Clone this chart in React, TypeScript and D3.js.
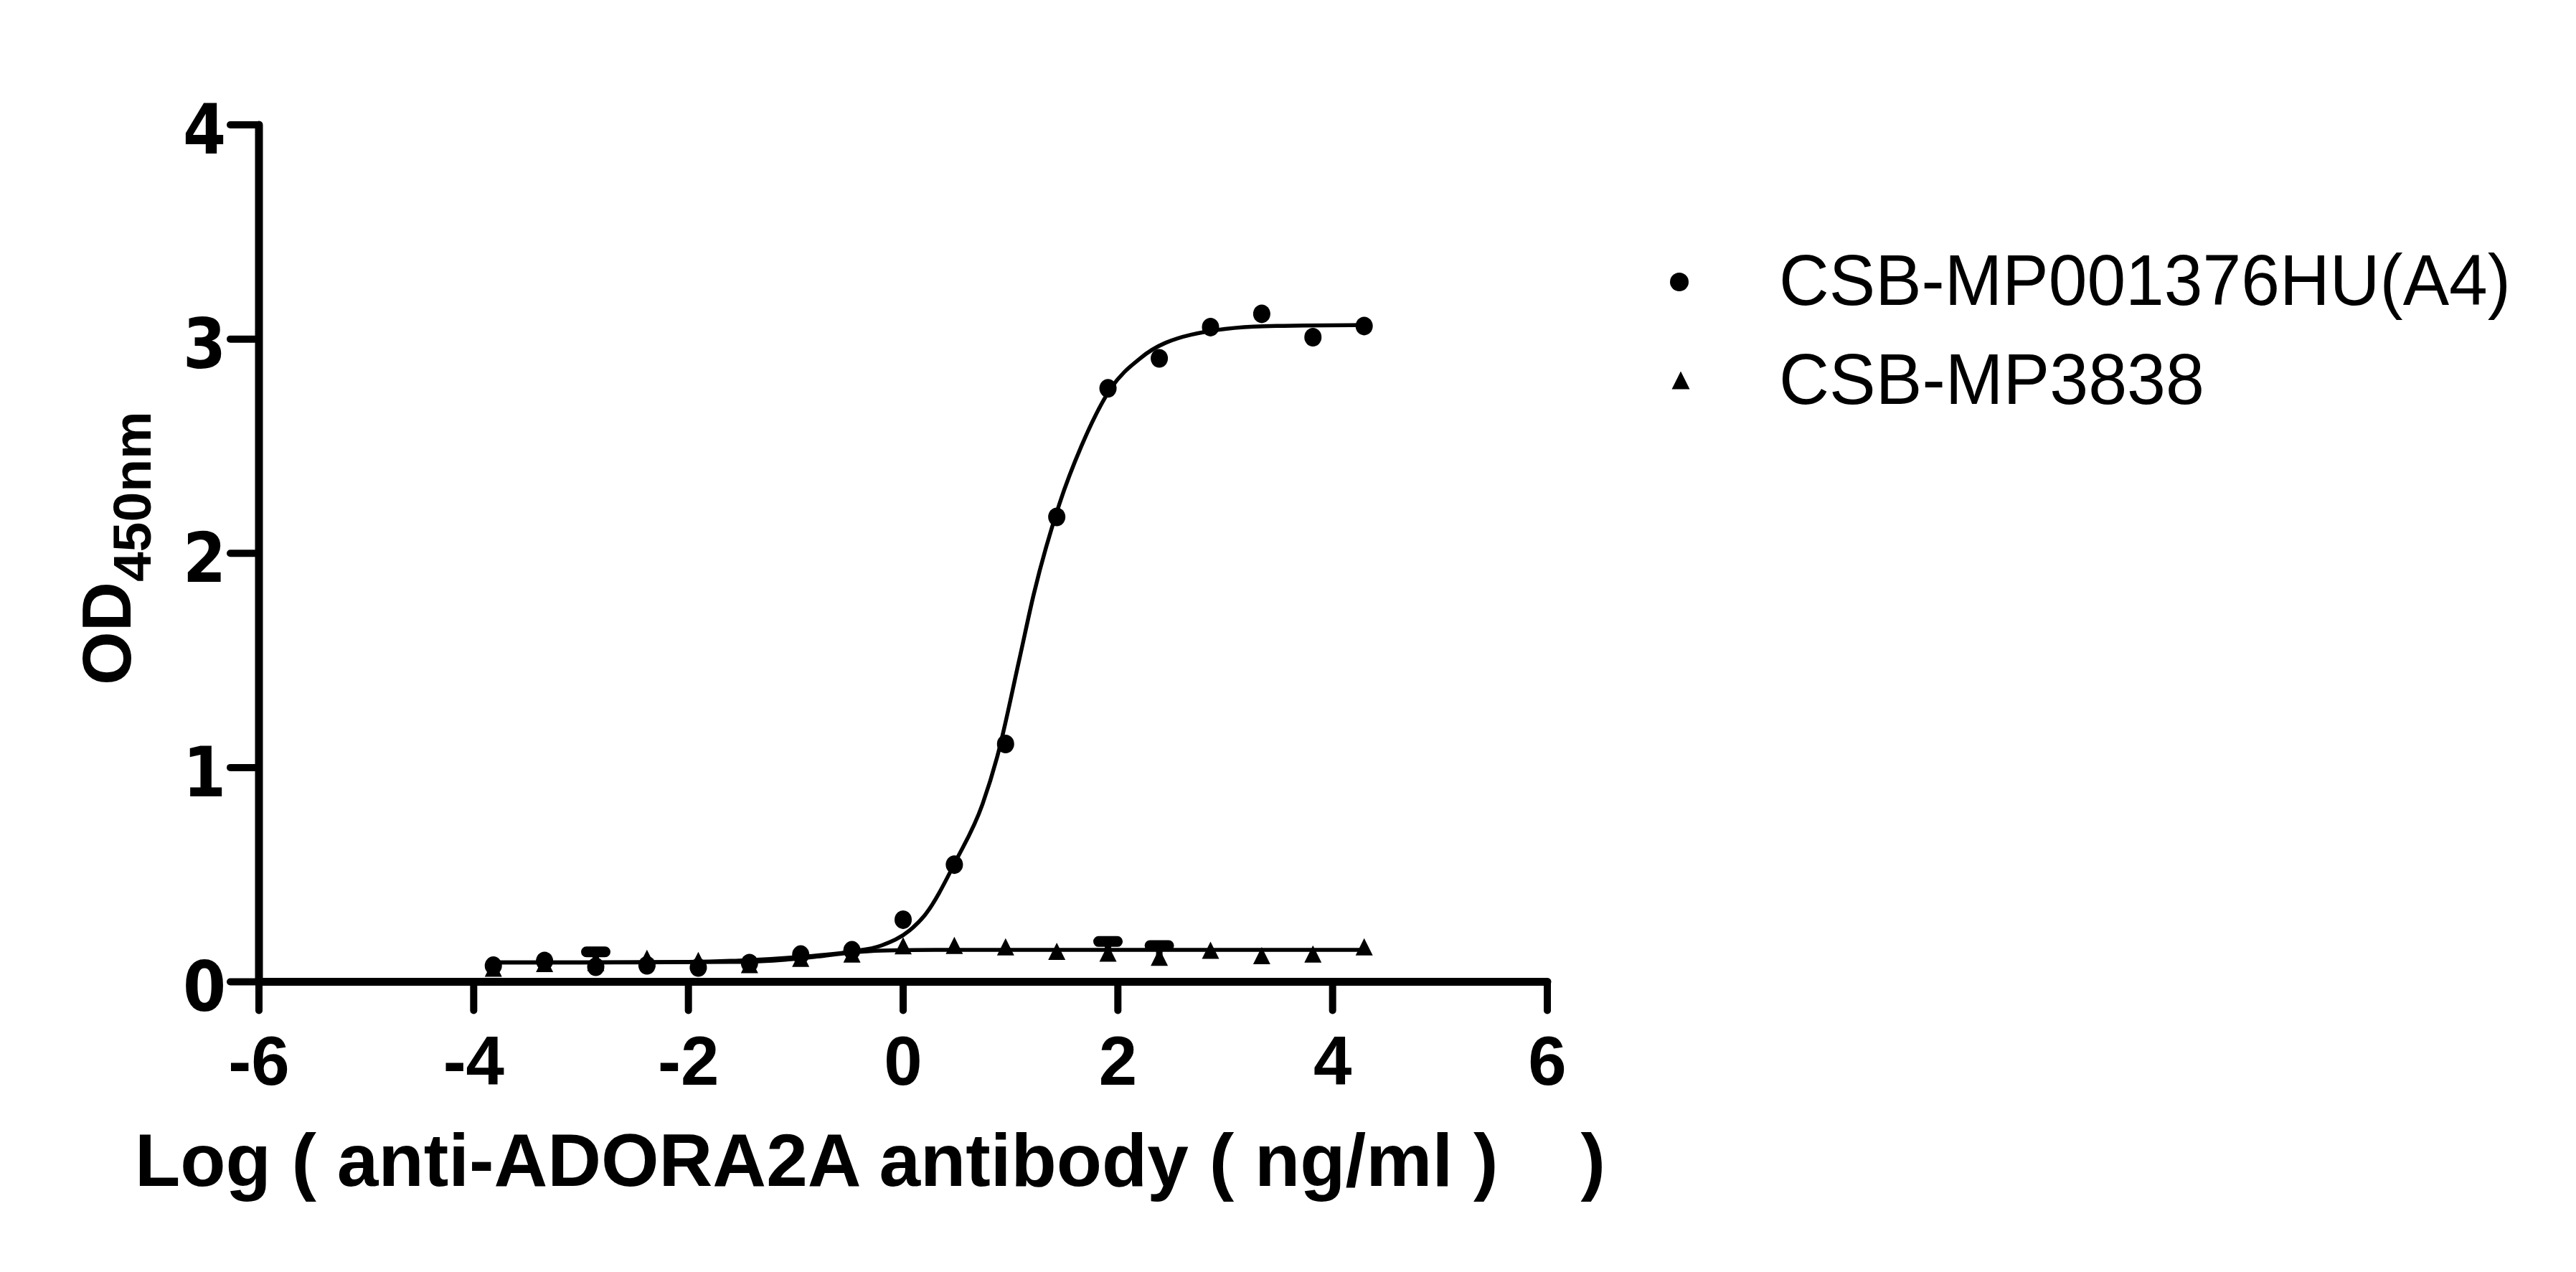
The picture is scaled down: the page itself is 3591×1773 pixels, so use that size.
import React from 'react';
import * as d3 from 'd3';

const W = 3591;
const H = 1773;

// log10 concentration (ng/ml), 3-fold serial dilutions
const LOG_CONC = [-3.817, -3.34, -2.863, -2.386, -1.908, -1.431, -0.954, -0.477, 0, 0.477, 0.954, 1.431, 1.908, 2.386, 2.863, 3.34, 3.817, 4.294];
// OD450 for CSB-MP001376HU(A4)
const OD_A4 = [0.075, 0.097, 0.07, 0.077, 0.067, 0.087, 0.127, 0.147, 0.29, 0.547, 1.11, 2.17, 2.77, 2.91, 3.056, 3.118, 3.009, 3.061];
// OD450 for CSB-MP3838
const OD_3838 = [0.064, 0.085, 0.09, 0.11, 0.1, 0.08, 0.11, 0.13, 0.168, 0.17, 0.163, 0.142, 0.134, 0.115, 0.147, 0.122, 0.13, 0.163];
// upper error (SD) for CSB-MP3838
const ERR_3838 = [0, 0, 0.05, 0, 0, 0, 0, 0, 0, 0, 0, 0, 0.054, 0.054, 0, 0, 0, 0];

// fitted curves
const FIT_A4_X = [-3.817, -3.0, -2.0, -1.5, -1.0, -0.5, -0.2, 0.06, 0.2, 0.497, 0.74, 0.876, 1.08, 1.217, 1.455, 1.66, 1.935, 2.207, 2.68, 3.36, 4.294];
const FIT_A4_Y = [0.09, 0.09, 0.093, 0.1, 0.115, 0.14, 0.17, 0.24, 0.31, 0.57, 0.83, 1.05, 1.5, 1.81, 2.23, 2.5, 2.77, 2.91, 3.02, 3.06, 3.066];
const FIT_3838_X = [-3.817, -2.5, -1.5, -1.1, -0.8, -0.5, -0.2, 0.3, 1.5, 3.0, 4.294];
const FIT_3838_Y = [0.09, 0.09, 0.093, 0.103, 0.118, 0.136, 0.146, 0.149, 0.149, 0.149, 0.149];

const X_TICKS = [-6, -4, -2, 0, 2, 4, 6];
const Y_TICKS = [0, 1, 2, 3, 4];

const SERIES_NAMES = ['CSB-MP001376HU(A4)', 'CSB-MP3838'];
const X_TITLE = 'Log ( anti-ADORA2A antibody ( ng/ml )    )';

const BOLD = '"Liberation Sans", Arial, sans-serif';

function triPath(w: number, h: number) {
  return `M0,${-h / 2}L${w / 2},${h / 2}L${-w / 2},${h / 2}Z`;
}

export default function App() {
  const x = d3.scaleLinear().domain([-6, 6]).range([361, 2157]);
  const y = d3.scaleLinear().domain([0, 4]).range([1368.5, 174]);

  const line = d3
    .line<[number, number]>()
    .x((d) => x(d[0]))
    .y((d) => y(d[1]))
    .curve(d3.curveMonotoneX);

  const fitA4 = FIT_A4_X.map((v, i) => [v, FIT_A4_Y[i]] as [number, number]);
  const fit3838 = FIT_3838_X.map((v, i) => [v, FIT_3838_Y[i]] as [number, number]);

  const x0 = x(-6);
  const y0 = y(0);
  const tickLen = 40;

  return (
    <svg
      width={W}
      height={H}
      viewBox={`0 0 ${W} ${H}`}
      style={{ position: 'absolute', left: 0, top: 0, background: '#fff' }}
    >
      <rect x={0} y={0} width={W} height={H} fill="#fff" />

      {/* fitted lines */}
      <path d={line(fit3838) || ''} fill="none" stroke="#000" strokeWidth={5.5} />
      <path d={line(fitA4) || ''} fill="none" stroke="#000" strokeWidth={5.5} />

      {/* error bars (above) for CSB-MP3838 */}
      {LOG_CONC.map((v, i) =>
        ERR_3838[i] > 0 ? (
          <g key={'e' + i}>
            <line x1={x(v)} x2={x(v)} y1={y(OD_3838[i])} y2={y(OD_3838[i] + ERR_3838[i])} stroke="#000" strokeWidth={9} />
            <line
              x1={x(v) - 13}
              x2={x(v) + 13}
              y1={y(OD_3838[i] + ERR_3838[i])}
              y2={y(OD_3838[i] + ERR_3838[i])}
              stroke="#000"
              strokeWidth={15}
              strokeLinecap="round"
            />
          </g>
        ) : null
      )}

      {/* markers */}
      {LOG_CONC.map((v, i) => (
        <path key={'t' + i} d={triPath(24, 24)} transform={`translate(${x(v)},${y(OD_3838[i])})`} fill="#000" />
      ))}
      {LOG_CONC.map((v, i) => (
        <ellipse key={'c' + i} cx={x(v)} cy={y(OD_A4[i])} rx={12} ry={13} fill="#000" />
      ))}

      {/* axes */}
      <line x1={x0} x2={x(6)} y1={y0} y2={y0} stroke="#000" strokeWidth={11} strokeLinecap="round" />
      <line x1={x0} x2={x0} y1={y0} y2={y(4)} stroke="#000" strokeWidth={11} strokeLinecap="round" />
      {X_TICKS.map((t) => (
        <line key={'xt' + t} x1={x(t)} x2={x(t)} y1={y0} y2={y0 + tickLen} stroke="#000" strokeWidth={10} strokeLinecap="round" />
      ))}
      {Y_TICKS.map((t) => (
        <line key={'yt' + t} x1={x0} x2={x0 - tickLen} y1={y(t)} y2={y(t)} stroke="#000" strokeWidth={10} strokeLinecap="round" />
      ))}

      {/* tick labels */}
      {X_TICKS.map((t) => (
        <text
          key={'xl' + t}
          x={x(t)}
          y={1512}
          textAnchor="middle"
          fontFamily={BOLD}
          fontWeight="bold"
          fontSize={96}
          fill="#000"
        >
          {String(t)}
        </text>
      ))}
      {Y_TICKS.map((t) => (
        <text
          key={'yl' + t}
          transform={`translate(315,${y(t) + 40}) scale(0.9,1)`}
          textAnchor="end"
          fontFamily='"DejaVu Sans", Verdana, sans-serif'
          fontWeight="bold"
          fontSize={96}
          fill="#000"
        >
          {t}
        </text>
      ))}

      {/* axis titles */}
      <text
        x={188}
        y={1653}
        fontFamily={BOLD}
        fontWeight="bold"
        fontSize={104}
        fill="#000"
        style={{ whiteSpace: 'pre' }}
        textLength={2050}
        lengthAdjust="spacingAndGlyphs"
      >
        {X_TITLE}
      </text>
      <text transform="translate(182,955) rotate(-90)" fontFamily={BOLD} fontWeight="bold" fontSize={96} fill="#000">
        OD
        <tspan fontSize={75} dy={28}>
          450nm
        </tspan>
      </text>

      {/* legend */}
      <circle cx={2341} cy={393} r={13} fill="#000" />
      <path d={triPath(25, 25)} transform="translate(2343,530)" fill="#000" />
      <text x={2480} y={425} fontFamily={BOLD} fontSize={100} fill="#000" textLength={1020} lengthAdjust="spacingAndGlyphs">
        {SERIES_NAMES[0]}
      </text>
      <text x={2480} y={563} fontFamily={BOLD} fontSize={100} fill="#000" textLength={593} lengthAdjust="spacingAndGlyphs">
        {SERIES_NAMES[1]}
      </text>
    </svg>
  );
}
